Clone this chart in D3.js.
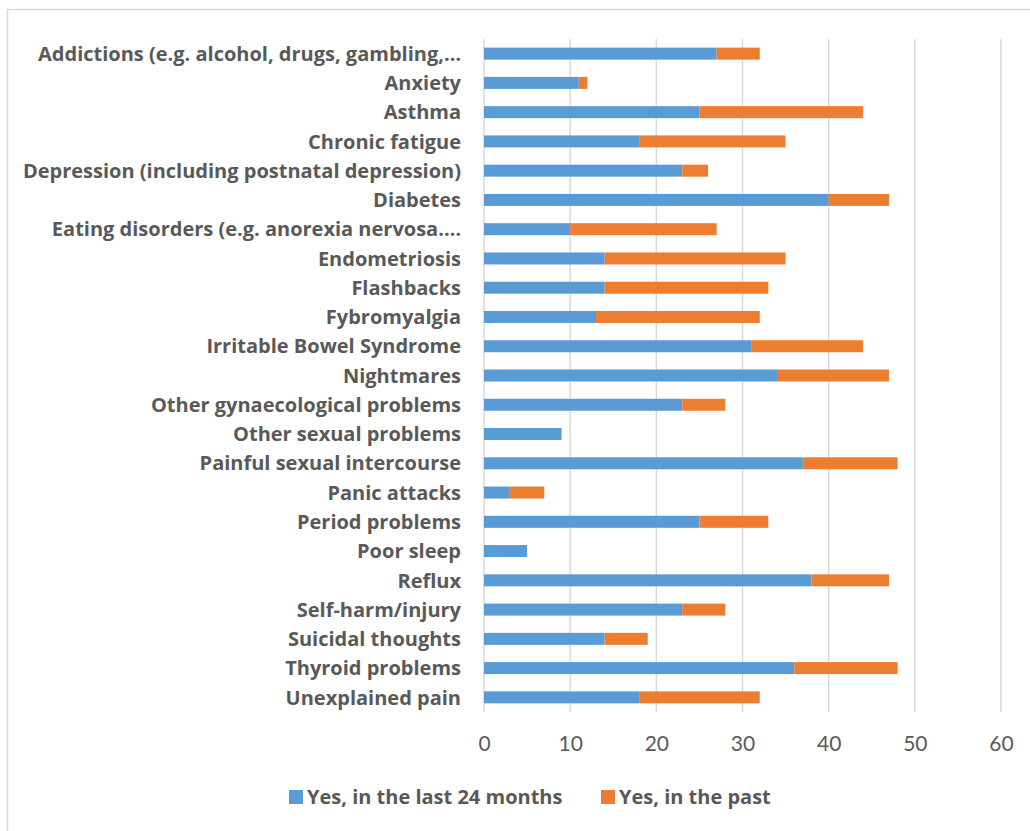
<!DOCTYPE html>
<html>
<head>
<meta charset="utf-8">
<script src="https://cdn.jsdelivr.net/npm/d3@7"></script>
<style>
  html, body { margin: 0; padding: 0; background: #fff; }
  svg { display: block; }
</style>
</head>
<body>
<div id="chart"></div>
<script>
// Health conditions reported, stacked by when they were experienced
const categories = [
  "Addictions (e.g. alcohol, drugs, gambling,\u2026",
  "Anxiety",
  "Asthma",
  "Chronic fatigue",
  "Depression (including postnatal depression)",
  "Diabetes",
  "Eating disorders (e.g. anorexia nervosa.\u2026",
  "Endometriosis",
  "Flashbacks",
  "Fybromyalgia",
  "Irritable Bowel Syndrome",
  "Nightmares",
  "Other gynaecological problems",
  "Other sexual problems",
  "Painful sexual intercourse",
  "Panic attacks",
  "Period problems",
  "Poor sleep",
  "Reflux",
  "Self-harm/injury",
  "Suicidal thoughts",
  "Thyroid problems",
  "Unexplained pain"
];
const last24Months = [27, 11, 25, 18, 23, 40, 10, 14, 14, 13, 31, 34, 23, 9, 37, 3, 25, 5, 38, 23, 14, 36, 18];
const inThePast    = [5, 1, 19, 17, 3, 7, 17, 21, 19, 19, 13, 13, 5, 0, 11, 4, 8, 0, 9, 5, 5, 12, 14];
const seriesNames  = ["Yes, in the last 24 months", "Yes, in the past"];
const xTicks = [0, 10, 20, 30, 40, 50, 60];

const W = 1030, H = 831;
const colors = ["#5B9BD5", "#ED7D31"];
const textColor = "#595959";
const gridColor = "#D9D9D9";
const labelFont = "'Open Sans', Lato, sans-serif";

const svg = d3.select("#chart").append("svg")
  .attr("width", W).attr("height", H);

// outer chart frame
svg.append("rect")
  .attr("x", 7.5).attr("y", 9.5)
  .attr("width", W).attr("height", H)
  .attr("fill", "#fff")
  .attr("stroke", "#D9D9D9").attr("stroke-width", 1.5);

const plot = { left: 484, right: 1001, top: 39, bottom: 712 };

const x = d3.scaleLinear().domain([0, 60]).range([plot.left, plot.right]);
const y = d3.scaleBand().domain(categories).range([plot.top, plot.bottom]).paddingInner(0.59).paddingOuter(0.295);

// vertical gridlines
svg.append("g").selectAll("line")
  .data(xTicks)
  .join("line")
  .attr("x1", d => x(d)).attr("x2", d => x(d))
  .attr("y1", plot.top).attr("y2", plot.bottom)
  .attr("stroke", gridColor).attr("stroke-width", 1.5);

// stacked series
const rows = categories.map((c, i) => ({ cat: c, a: last24Months[i], b: inThePast[i] }));
const stack = d3.stack().keys(["a", "b"])(rows);

svg.append("g").selectAll("g")
  .data(stack)
  .join("g")
  .attr("fill", (d, i) => colors[i])
  .selectAll("rect")
  .data(d => d)
  .join("rect")
  .attr("x", d => x(d[0]))
  .attr("y", d => y(d.data.cat))
  .attr("width", d => Math.max(0, x(d[1]) - x(d[0])))
  .attr("height", y.bandwidth());

// x axis tick labels
const xAxis = d3.axisBottom(x).tickValues(xTicks).tickSize(0).tickPadding(0);
const gx = svg.append("g")
  .attr("transform", `translate(0, ${plot.bottom})`)
  .call(xAxis);
gx.select(".domain").remove();
gx.selectAll("text")
  .attr("dy", null)
  .attr("y", 39)
  .attr("fill", textColor)
  .style("font-family", "Lato, 'Open Sans', sans-serif")
  .style("font-size", "21px");

// category axis labels
const yAxis = d3.axisLeft(y).tickSize(0).tickPadding(23);
const gy = svg.append("g")
  .attr("transform", `translate(${plot.left}, 0)`)
  .call(yAxis);
gy.select(".domain").remove();
gy.selectAll("text")
  .attr("fill", textColor)
  .attr("dy", "0.36em")
  .style("font-family", labelFont)
  .style("font-weight", "bold")
  .style("font-size", "20px");

// legend
const legendItems = [
  { name: seriesNames[0], color: colors[0], x: 289 },
  { name: seriesNames[1], color: colors[1], x: 601 }
];
const lg = svg.append("g").selectAll("g")
  .data(legendItems)
  .join("g")
  .attr("transform", d => `translate(${d.x}, 797)`);
lg.append("rect")
  .attr("x", 0).attr("y", -7)
  .attr("width", 14).attr("height", 14)
  .attr("fill", d => d.color);
lg.append("text")
  .attr("x", 18).attr("dy", "0.36em")
  .attr("fill", textColor)
  .style("font-family", labelFont)
  .style("font-weight", "bold")
  .style("font-size", "20px")
  .text(d => d.name);
</script>
</body>
</html>
